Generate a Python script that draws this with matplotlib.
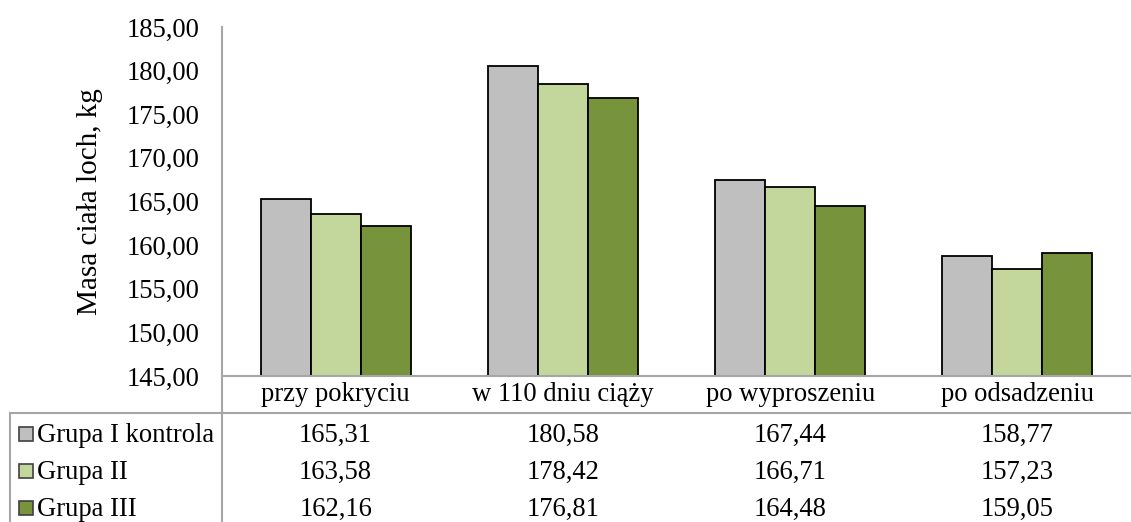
import numpy as np
import matplotlib
matplotlib.use('Agg')
import matplotlib.pyplot as plt
from matplotlib import transforms
from matplotlib.patches import Rectangle
from matplotlib.lines import Line2D
from matplotlib.ticker import FuncFormatter

# Dane: masa ciała loch w kolejnych okresach
okresy  = ['przy pokryciu', 'w 110 dniu ciąży', 'po wyproszeniu', 'po odsadzeniu']
grupy   = ['Grupa I kontrola', 'Grupa II', 'Grupa III']
grupa_1 = [165.31, 180.58, 167.44, 158.77]
grupa_2 = [163.58, 178.42, 166.71, 157.23]
grupa_3 = [162.16, 176.81, 164.48, 159.05]
kolory  = ['#BFBFBF', '#C3D69B', '#77933C']

plt.rcParams['font.family'] = ['Liberation Serif', 'DejaVu Serif']
FS = 19.2
SZARY = '#A6A6A6'

W, H = 1131, 522
fig = plt.figure(figsize=(W/100, H/100), dpi=100)
ax = fig.add_axes([222/W, (H-376)/H, (W-222)/W, (376-27)/H])

x = np.arange(len(okresy))
szer = 0.22
for i, (dane, kol) in enumerate(zip([grupa_1, grupa_2, grupa_3], kolory)):
	ax.bar(x + (i-1)*szer, np.array(dane) - 145, bottom=145, width=szer,
		color=kol, edgecolor='black', linewidth=1.3, zorder=3)

ax.set_xlim(-0.5, len(okresy)-0.5)
ax.set_ylim(145, 185)
ax.set_yticks(np.arange(145, 186, 5))
ax.yaxis.set_major_formatter(FuncFormatter(lambda v, p: ('%.2f' % v).replace('.', ',')))
ax.tick_params(axis='y', length=0, pad=16, labelsize=FS)
ax.set_xticks([])
for s in ['top', 'right', 'left', 'bottom']:
	ax.spines[s].set_visible(False)
ax.set_ylabel('Masa ciała loch, kg', fontsize=21, labelpad=17)

# Linie tabeli danych (w pikselach obrazu)
def px(xp, yp):
	return xp/W, 1 - yp/H
def linia(x0, y0, x1, y1):
	(a, b), (c, d) = px(x0, y0), px(x1, y1)
	fig.add_artist(Line2D([a, c], [b, d], color=SZARY, linewidth=1.5, transform=fig.transFigure))
linia(222, 27, 222, H)
linia(222, 376, W, 376)
linia(10, 413, W, 413)
linia(10, 413, 10, H)

# Tabela: nagłówki kategorii i wartości
tr = transforms.blended_transform_factory(ax.transData, fig.transFigure)
for xi, nazwa in zip(x, okresy):
	ax.text(xi, 1 - 401/H, nazwa, transform=tr, ha='center', va='baseline', fontsize=FS, clip_on=False)
wiersze_y = [442, 479, 516]
for dane, nazwa, kol, yp in zip([grupa_1, grupa_2, grupa_3], grupy, kolory, wiersze_y):
	for xi, v in zip(x, dane):
		ax.text(xi, 1 - yp/H, ('%.2f' % v).replace('.', ','), transform=tr,
			ha='center', va='baseline', fontsize=FS, clip_on=False)
	fig.add_artist(Rectangle(px(19, yp - 1), 14/W, 14/H, facecolor=kol,
		edgecolor='#404040', linewidth=1.2, transform=fig.transFigure))
	fig.text(37/W, 1 - yp/H, nazwa, ha='left', va='baseline', fontsize=FS)

fig.savefig('out.png', dpi=100)
